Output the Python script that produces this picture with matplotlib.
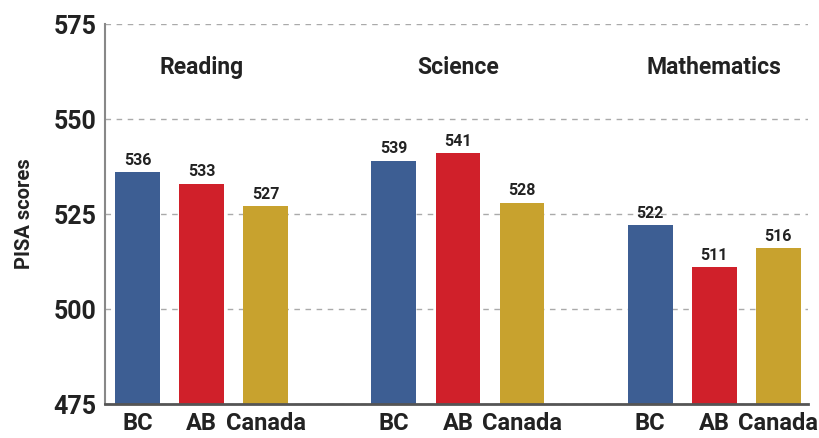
import matplotlib
matplotlib.use("Agg")
import matplotlib.pyplot as plt
import numpy as np

# PISA scores by subject and jurisdiction
subjects = ["Reading", "Science", "Mathematics"]
regions = ["BC", "AB", "Canada"]
bc_scores = [536, 539, 522]
ab_scores = [533, 541, 511]
canada_scores = [527, 528, 516]

colors = ["#3d5e93", "#d0202a", "#c8a22e"]

plt.rcParams["font.family"] = ["Roboto", "DejaVu Sans"]

fig = plt.figure(figsize=(8.2, 4.38), dpi=100)
ax = fig.add_axes([0.128, 0.0776, 0.857, 0.8676])

series = [bc_scores, ab_scores, canada_scores]
group_gap = 4
for j, (vals, col) in enumerate(zip(series, colors)):
    xs = np.arange(len(subjects)) * group_gap + j
    ax.bar(xs, np.array(vals) - 475, bottom=475, width=0.7, color=col, zorder=3)
    for x, v in zip(xs, vals):
        ax.text(x, v + 1.2, str(v), ha="center", va="bottom",
                fontsize=11.5, fontweight="bold", color="#222222", zorder=4)

# subject titles above each group
for i, s in enumerate(subjects):
    ax.text(i * group_gap + 1, 563.5, s, ha="center", va="center",
            fontsize=16.5, fontweight="bold", color="#222222")

xticks = [i * group_gap + j for i in range(len(subjects)) for j in range(len(regions))]
ax.set_xticks(xticks)
ax.set_xticklabels(regions * len(subjects), fontsize=17, fontweight="bold", color="#222222")
ax.set_xlim(-0.51, 10.46)
ax.set_ylim(475, 575)
ax.set_yticks([475, 500, 525, 550, 575])
ax.set_yticklabels(["475", "500", "525", "550", "575"], fontsize=18,
                   fontweight="bold", color="#222222")
ax.tick_params(axis="both", length=0, pad=6)
ax.set_ylabel("PISA scores", fontsize=14.5, fontweight="bold", color="#222222", labelpad=14)

ax.yaxis.grid(True, linestyle=(0, (4, 4)), color="#aaaaaa", linewidth=1, zorder=0)
ax.spines["top"].set_visible(False)
ax.spines["right"].set_visible(False)
ax.spines["left"].set_color("#888888")
ax.spines["left"].set_linewidth(1.5)
ax.spines["bottom"].set_color("#555555")
ax.spines["bottom"].set_linewidth(2)
ax.spines["bottom"].set_zorder(5)

fig.savefig("out.png", dpi=100)
